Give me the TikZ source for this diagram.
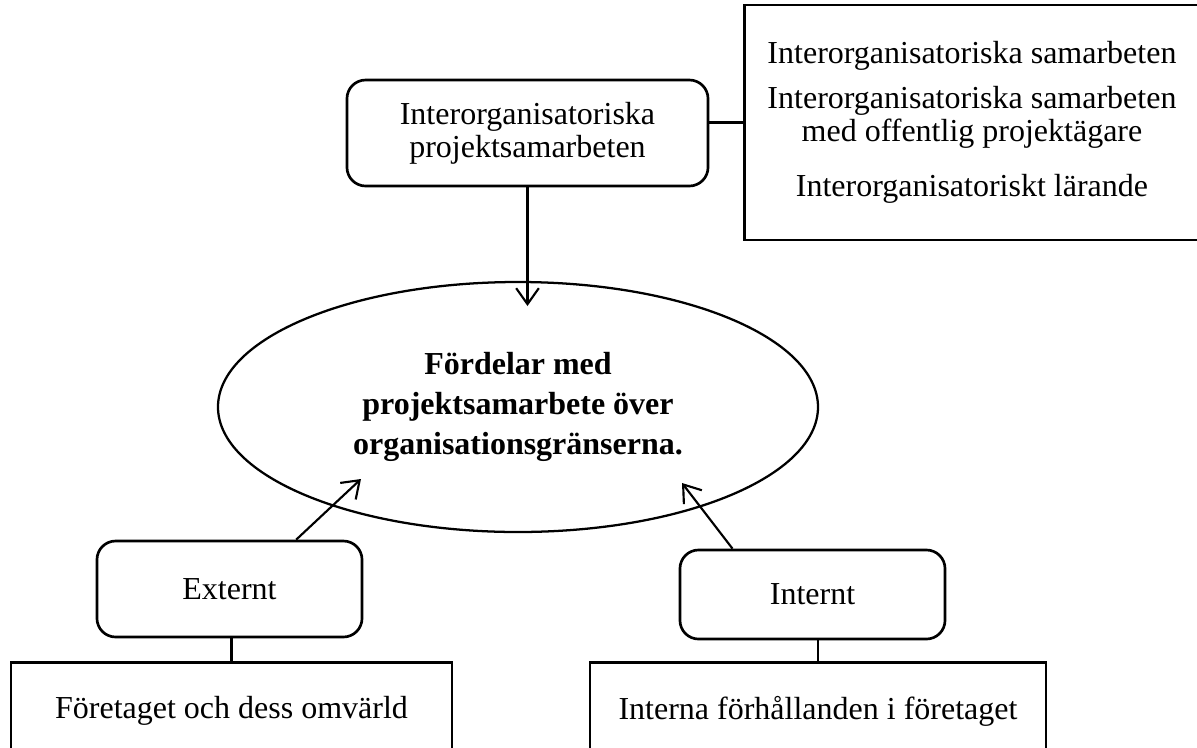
\documentclass[tikz,border=0pt]{standalone}
\usepackage{fontspec}
\setmainfont{Liberation Serif}
\usetikzlibrary{arrows.meta,positioning,shapes.geometric,calc}

\begin{document}
\begin{tikzpicture}[x=0.375pt,y=-0.375pt,>={Straight Barb[length=6pt,width=8.5pt]},
    textfont/.style={font=\fontsize{12}{12.4}\selectfont,align=center},
    roundbox/.style={draw,line width=1pt,rounded corners=7pt,textfont},
    plainbox/.style={draw,line width=0.9pt,textfont},
    link/.style={line width=0.8pt}]
  \useasboundingbox (0,0) rectangle (1197,747);
  \node[roundbox,minimum width=135.4pt,minimum height=39.75pt] (proj) at (527.5,133) {Interorganisatoriska\\projektsamarbeten};
  \node[plainbox,minimum width=170.6pt,minimum height=88.1pt] (info) at (972,122.5) {Interorganisatoriska samarbeten\\[4.5pt]Interorganisatoriska samarbeten\\med offentlig projektägare\\[8.2pt]Interorganisatoriskt lärande};
  \node[ellipse,draw,line width=0.85pt,minimum width=225pt,minimum height=93.75pt,align=center,font=\fontsize{12}{15}\selectfont\bfseries] (gain) at (518,407) {Fördelar med\\projektsamarbete över\\organisationsgränserna.};
  \node[roundbox,minimum width=99.4pt,minimum height=36pt] (ext) at (229.5,589) {Externt};
  \node[roundbox,minimum width=99.4pt,minimum height=33.4pt] (int) at (812.5,594.5) {Internt};
  \node[plainbox,minimum width=165.4pt,minimum height=36.4pt] (world) at (231.5,711) {Företaget och dess omvärld};
  \node[plainbox,minimum width=171pt,minimum height=36.4pt] (inside) at (818,711) {Interna förhållanden i företaget};
  % arrow ends inside the ellipse
  \coordinate (tipA) at (527.5,306);
  \coordinate (tipB) at (361,479);
  \coordinate (tipC) at (682,483);
  \draw[link,->] (proj) -- (tipA);
  \draw[link,->] ([xshift=25pt]ext.north) -- (tipB);
  \draw[link,->] ([xshift=-30pt]int.north) -- (tipC);
  \draw[link] (info.west) -- (info.west -| proj.east);
  \draw[link] (world.north) -- (world.north |- ext.south);
  \draw[link] (inside.north) -- (inside.north |- int.south);
\end{tikzpicture}
\end{document}
